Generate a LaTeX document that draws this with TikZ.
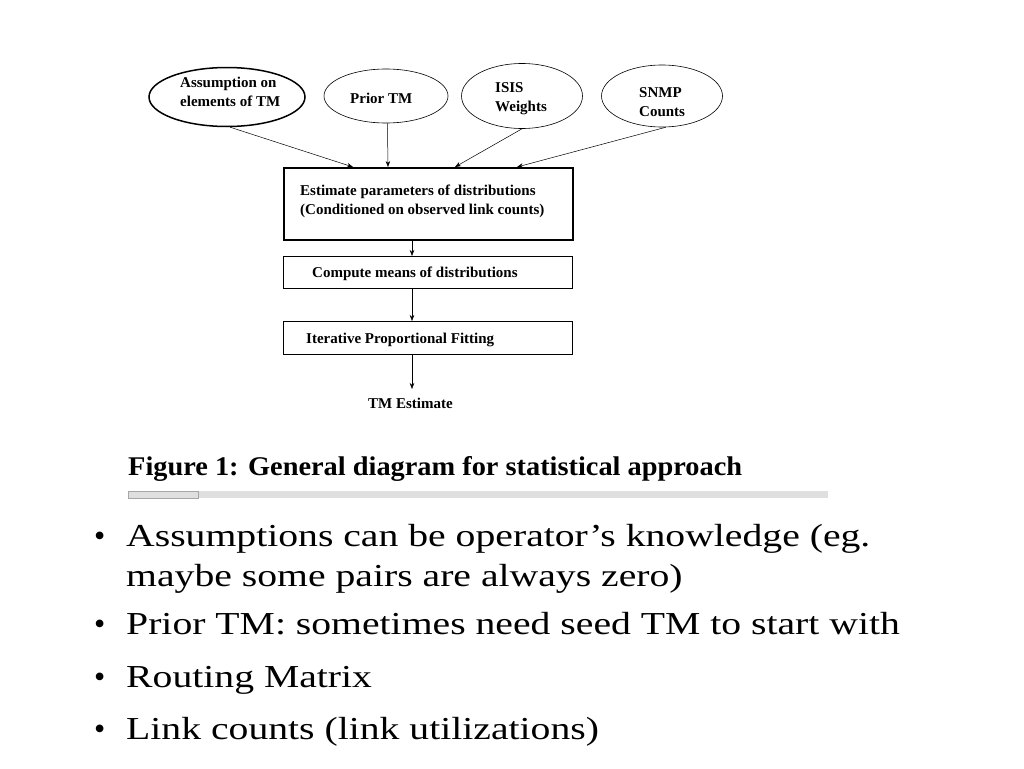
\documentclass[tikz,border=0pt]{standalone}
\usepackage{fontspec}
\setmainfont{Liberation Serif}
\usetikzlibrary{shapes.geometric,arrows.meta}
\begin{document}
\begin{tikzpicture}[x=1pt,y=-1pt,
  ell/.style={draw,ellipse,line width=0.6pt,inner sep=0pt},
  boxa/.style={draw,line width=0.6pt,anchor=north west,inner sep=0pt},
  dtxt/.style={font=\fontsize{15}{18}\selectfont\bfseries,anchor=base west,inner sep=0pt},
  arr/.style={-{Stealth[length=6pt,width=4.5pt]},line width=0.5pt},
  bul/.style={font=\fontsize{32}{36}\selectfont,anchor=base west,inner sep=0pt}]
\useasboundingbox (0,0) rectangle (1024,768);
\fill[white] (0,0) rectangle (1024,768);
% ellipses
\node[ell,line width=1.5pt,minimum width=156pt,minimum height=59pt] (e1) at (227,97) {};
\node[ell,minimum width=124pt,minimum height=54pt] (e2) at (386,96) {};
\node[ell,minimum width=121pt,minimum height=65pt] (e3) at (522,96) {};
\node[ell,minimum width=121pt,minimum height=62pt] (e4) at (662,96) {};
\node[dtxt] (t1a) at (180,87) {Assumption on};
\node[dtxt] (t1b) at (180,106) {elements of TM};
\node[dtxt] (t2) at (350,103) {Prior TM};
\node[dtxt] (t3a) at (495,92) {ISIS};
\node[dtxt] (t3b) at (495,111) {Weights};
\node[dtxt] (t4a) at (639,97) {SNMP};
\node[dtxt] (t4b) at (639,116) {Counts};
% boxes
\node[boxa,line width=1.5pt,minimum width=289pt,minimum height=72pt] (b1) at (283,167) {};
\node[dtxt] (bt1a) at (300,195) {Estimate parameters of distributions};
\node[dtxt] (bt1b) at (300,214) {(Conditioned on observed link counts)};
\node[boxa,minimum width=289pt,minimum height=32pt] (b2) at (283,256) {};
\node[dtxt] (bt2) at (312,277) {Compute means of distributions};
\node[boxa,minimum width=289pt,minimum height=33pt] (b3) at (283,321) {};
\node[dtxt] (bt3) at (306,343) {Iterative Proportional Fitting};
\node[dtxt] (te) at (368,408) {TM Estimate};
\coordinate (a1) at (353,167);
\coordinate (a2) at (388,167);
\coordinate (a3) at (455,167);
\coordinate (a4) at (517,167);
\draw[arr] (e1.-84) -- (a1);
\draw[arr] (e2.-87) -- (a2);
\draw[arr] (e3.south) -- (a3);
\draw[arr] (e4.-83) -- (a4);
\coordinate (c1) at (412,239);
\coordinate (c2) at (412,256);
\coordinate (c3) at (412,288);
\coordinate (c4) at (412,321);
\coordinate (c5) at (412,354);
\coordinate (c6) at (412,389);
\draw[arr] (c1) -- (c2);
\draw[arr] (c3) -- (c4);
\draw[arr] (c5) -- (c6);
% caption
\node[font=\fontsize{27}{30}\selectfont\bfseries,anchor=base west,inner sep=0pt] (cap) at (128,475) {\scalebox{1.05}[1]{Figure 1: General diagram for statistical approach}};
\fill[gray!25] (128,491) rectangle (828,498);
\draw[gray!70,line width=0.6pt] (128,491) rectangle (198,498);
% bullets
\node[bul] (l1a) at (94,546) {•};
\node[bul] (l1) at (126,546) {\scalebox{1.24}[1]{Assumptions can be operator’s knowledge (eg.}};
\node[bul] (l1b) at (126,586) {\scalebox{1.24}[1]{maybe some pairs are always zero)}};
\node[bul] (l2a) at (94,634) {•};
\node[bul] (l2) at (126,634) {\scalebox{1.24}[1]{Prior TM: sometimes need seed TM to start with}};
\node[bul] (l3a) at (94,687) {•};
\node[bul] (l3) at (126,687) {\scalebox{1.24}[1]{Routing Matrix}};
\node[bul] (l4a) at (94,739) {•};
\node[bul] (l4) at (126,739) {\scalebox{1.24}[1]{Link counts (link utilizations)}};
\end{tikzpicture}
\end{document}
